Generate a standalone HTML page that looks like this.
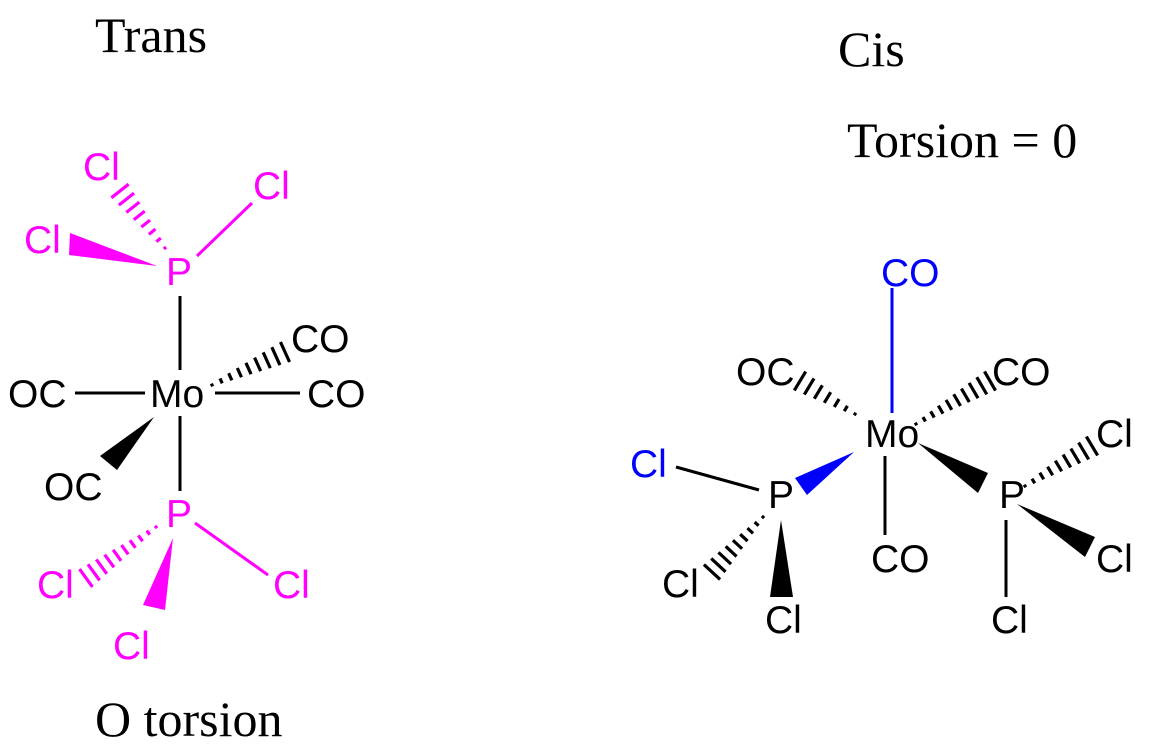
<!DOCTYPE html>
<html><head><meta charset="utf-8"><style>
body{margin:0;background:#fff}
svg{display:block}
text{font-family:"Liberation Sans",sans-serif;font-size:39px}
.t{font-family:"Liberation Serif",serif;font-size:50px}
</style></head><body>
<svg id="s" width="1163" height="756" viewBox="0 0 1163 756" xmlns="http://www.w3.org/2000/svg">
<text class="t" x="95" y="52">Trans</text>
<text class="t" x="838" y="66">Cis</text>
<text class="t" x="847" y="157">Torsion = 0</text>
<text class="t" x="95" y="736">O torsion</text>

<g stroke="#000" stroke-width="3" fill="none">
<line x1="180" y1="296" x2="180" y2="370"/>
<line x1="180" y1="416" x2="180" y2="491"/>
<line x1="75" y1="393" x2="145" y2="393"/>
<line x1="215" y1="393" x2="300" y2="393"/>
</g>
<g stroke="#f0f" stroke-width="3">
<line x1="197" y1="256" x2="252" y2="203"/>
<line x1="195" y1="523" x2="268" y2="575"/>
</g>
<polygon points="154,417 100,456 117,470" fill="#000"/>
<polygon points="157,266 70,233 69,255" fill="#f0f"/>
<polygon points="173,538 143,605 165,610" fill="#f0f"/>
<g fill="#000">
<text x="150" y="407">Mo</text>
<text x="8" y="407">OC</text>
<text x="307" y="407">CO</text>
<text x="291" y="352">CO</text>
<text x="44" y="500">OC</text>
</g>
<g fill="#f0f">
<text x="166" y="285">P</text>
<text x="166" y="527">P</text>
<text x="83" y="180">Cl</text>
<text x="253" y="199">Cl</text>
<text x="24" y="253">Cl</text>
<text x="37" y="598">Cl</text>
<text x="273" y="598">Cl</text>
<text x="113" y="659">Cl</text>
</g>

<line x1="892" y1="288" x2="892" y2="413" stroke="#00f" stroke-width="3"/>
<g stroke="#000" stroke-width="3">
<line x1="676" y1="467" x2="759" y2="490"/>
<line x1="885" y1="456" x2="885" y2="535"/>
<line x1="1006" y1="520" x2="1006" y2="597"/>
</g>
<polygon points="854,452 795,478 807,495" fill="#00f"/>
<polygon points="918,443 988,473 978,493" fill="#000"/>
<polygon points="1017,504 1095,537 1085,557" fill="#000"/>
<polygon points="781,520 770,597 793,597" fill="#000"/>
<g fill="#000">
<text x="865" y="447">Mo</text>
<text x="736" y="385">OC</text>
<text x="992" y="385">CO</text>
<text x="871" y="572">CO</text>
<text x="768" y="508">P</text>
<text x="999" y="508">P</text>
<text x="1096" y="447">Cl</text>
<text x="1096" y="572">Cl</text>
<text x="991" y="633">Cl</text>
<text x="662" y="597">Cl</text>
<text x="765" y="633">Cl</text>
</g>
<text x="881" y="286" fill="#00f">CO</text>
<text x="630" y="477" fill="#00f">Cl</text>
<g id="h"></g>
</svg>
<script>
var g=document.getElementById('h'),ns='http://www.w3.org/2000/svg';
function hash(x1,y1,x2,y2,w,c){var dx=x2-x1,dy=y2-y1,L=Math.hypot(dx,dy),px=-dy/L,py=dx/L,n=Math.round(L/10);
for(var i=0;i<=n;i++){var t=i/n,x=x1+dx*t,y=y1+dy*t,h=1.5+(w/2-1.5)*t;
var l=document.createElementNS(ns,'line');l.setAttribute('x1',x-px*h);l.setAttribute('y1',y-py*h);l.setAttribute('x2',x+px*h);l.setAttribute('y2',y+py*h);l.setAttribute('stroke',c);l.setAttribute('stroke-width','3.2');g.appendChild(l);}}
hash(212,385,285,352,22,'#000');
hash(165,248,120,191,22,'#f0f');
hash(156,527,86,578,22,'#f0f');
hash(855,414,800,381,22,'#000');
hash(916,424,990,381,22,'#000');
hash(1025,486,1092,446,22,'#000');
hash(763,517,712,572,22,'#000');
</script>
</body></html>
